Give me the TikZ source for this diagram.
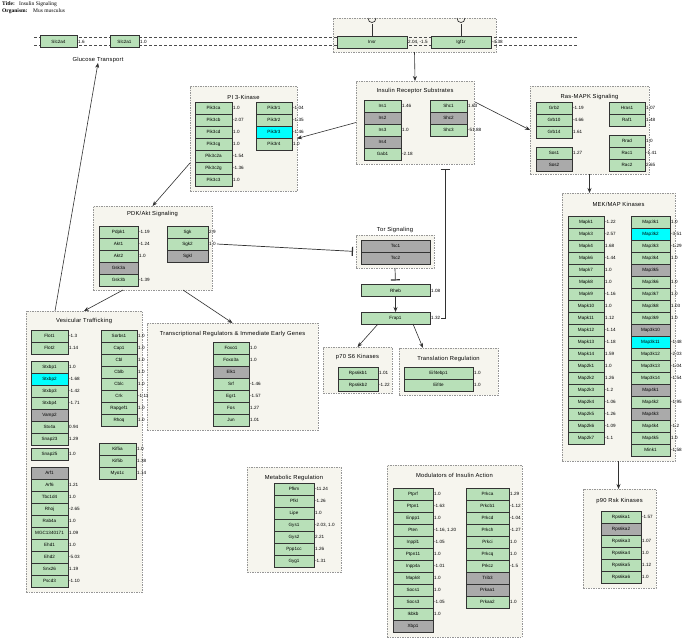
\documentclass[tikz,border=0pt]{standalone}
\usepackage{fontspec}
\usetikzlibrary{arrows.meta,calc}
\newfontfamily\genefont{Liberation Sans}
\newfontfamily\ttlfont[LetterSpace=4]{Liberation Sans}
\newfontfamily\hdrfont{Liberation Serif}
\definecolor{geneg}{RGB}{184,224,184}
\definecolor{genex}{RGB}{170,170,170}
\definecolor{genec}{RGB}{0,255,255}
\definecolor{grpfill}{RGB}{246,245,238}
\definecolor{grpline}{RGB}{150,150,150}
\definecolor{linkcol}{RGB}{50,50,50}
\tikzset{
 gene/.style={draw=black!80, line width=0.8pt, minimum height=12pt, inner sep=0pt, outer sep=0pt, font=\genefont\fontsize{4.6}{5}\selectfont},
 val/.style={anchor=west, inner sep=1pt, font=\genefont\fontsize{4.6}{5}\selectfont},
 grp/.style={draw=grpline, dash pattern=on 1.5pt off 1pt, line width=0.6pt, fill=grpfill, inner sep=0pt, outer sep=0pt},
 ttl/.style={font=\ttlfont\fontsize{5.8}{6}\selectfont, inner sep=0pt},
 link/.style={draw=linkcol, line width=0.6pt, -{Stealth[length=5pt,width=4pt]}},
 inhib/.style={draw=linkcol, line width=0.7pt, -{Bar[width=9pt,line width=1.2pt]}},
 memb/.style={draw=black!70, dash pattern=on 3pt off 2pt, line width=0.6pt},
 hdr/.style={anchor=west, inner sep=0pt, font=\hdrfont\fontsize{5.5}{6}\selectfont},
 recep/.style={draw=black!80, line width=0.7pt},
}
\newcommand\genecol[4]{%
 \foreach \n/\v/\k [count=\i from 0] in {#4}{%
  \node[gene,fill=gene\k,minimum width={#2-#1}] (\n) at ({(#1+#2)/2},{#3+12*\i+6}) {\n};
  \if x\k\else\node[val] (\n-v) at (\n.east) {\v};\fi
 }}
\newcommand\mkgrp[7]{%
 \node[grp, minimum width={#4-#2}, minimum height={#5-#3}] (#1) at ({(#2+#4)/2},{(#3+#5)/2}) {};
 \node[ttl] (#1-t) at ({(#2+#4)/2},#7) {#6};}
\begin{document}
\begin{tikzpicture}[x=1pt,y=-1pt]
\fill[white] (0,0) rectangle (685,638);
\useasboundingbox (0,0) rectangle (685,638);
% header
\node[hdr,font=\hdrfont\bfseries\fontsize{5.5}{6}\selectfont] (h1) at (2,4) {Title:};
\node[hdr] (h2) at (19,4) {Insulin Signaling};
\node[hdr,font=\hdrfont\bfseries\fontsize{5.5}{6}\selectfont] (h3) at (2,11) {Organism:};
\node[hdr] (h4) at (33,11) {Mus musculus};
% groups
\node[grp, minimum width=163, minimum height=34] (rec) at (414.5,35) {};
\mkgrp{pik}{190}{86}{297}{191}{PI 3-Kinase}{97}
\mkgrp{irs}{356}{81}{474}{164}{Insulin Receptor Substrates}{91}
\mkgrp{ras}{530}{86}{649}{174}{Ras-MAPK Signaling}{97}
\mkgrp{mek}{562}{193}{675}{461}{MEK/MAP Kinases}{204}
\mkgrp{p90}{583}{489}{656}{588}{p90 Rsk Kinases}{501}
\mkgrp{pdk}{93}{206}{212}{290}{PDK/Akt Signaling}{214}
\mkgrp{ves}{26}{311}{142}{592}{Vesicular Trafficking}{321}
\mkgrp{trn}{147}{323}{318}{430}{Transcriptional Regulators \& Immediate Early Genes}{334}
\mkgrp{tor}{356}{235}{434}{268}{Tor Signaling}{230}
\mkgrp{p70}{323}{347}{392}{393}{p70 S6 Kinases}{357}
\mkgrp{trl}{399}{348}{498}{395}{Translation Regulation}{359}
\mkgrp{met}{247}{467}{341}{572}{Metabolic Regulation}{478}
\mkgrp{mod}{387}{465}{522}{637}{Modulators of Insulin Action}{475}
% membrane
\coordinate (m1) at (34,37.5); \coordinate (m2) at (578,37.5);
\coordinate (m3) at (34,45.5); \coordinate (m4) at (578,45.5);
\draw[memb] (m1) -- (m2);
\draw[memb] (m3) -- (m4);
\genecol{40}{77}{35.5}{Slc2a4/1.6/g}
\genecol{110}{139}{35.5}{Slc2a1/1.0/g}
\genecol{337}{407}{36}{Insr/{2.04, -1.5}/g}
\genecol{431}{491}{36}{Igf1r/-4.38/g}
\node[ttl,font=\ttlfont\fontsize{5.8}{6}\selectfont] (glc) at (98,60) {Glucose Transport};
% receptor symbols
\draw[recep] (Insr.north) -- ++(0,-12) coordinate (insrcup);
\draw[recep] ($(insrcup)+(-4,-6)$) .. controls ($(insrcup)+(-4,0)$) and ($(insrcup)+(4,0)$) .. ($(insrcup)+(4,-6)$);
\draw[recep] (Igf1r.north) -- ++(0,-12) coordinate (igfcup);
\draw[recep] ($(igfcup)+(-4,-6)$) .. controls ($(igfcup)+(-4,0)$) and ($(igfcup)+(4,0)$) .. ($(igfcup)+(4,-6)$);
% PI3K
\genecol{195}{232}{102}{Pik3ca/1.0/g,Pik3cb/-2.07/g,Pik3cd/1.0/g,Pik3cg/1.0/g,Pik3c2a/-1.54/g,Pik3c2g/-1.36/g,Pik3c3/1.0/g}
\genecol{256}{292}{102}{Pik3r1/-1.04/g,Pik3r2/-1.35/g,Pik3r3/-1.46/c,Pik3r4/1.0/g}
% IRS
\genecol{364}{401}{100}{Irs1/1.46/g,Irs2//x,Irs3/1.0/g,Irs4//x,Gab1/-2.18/g}
\genecol{430}{467}{100}{Shc1/1.63/g,Shc2//x,Shc3/-51.88/g}
% Ras
\genecol{536}{572}{102}{Grb2/-1.19/g,Grb10/-4.66/g,Grb14/1.61/g}
\genecol{536}{572}{147}{Sos1/1.27/g,Sos2//x}
\genecol{609}{645}{102}{Hras1/1.07/g,Raf1/1.48/g}
\genecol{609}{645}{135}{Rrad/1.0/g,Rac1/-1.41/g,Rac2/2.65/g}
% MEK
\genecol{568}{604}{216}{Mapk1/-1.22/g,Mapk3/-2.57/g,Mapk4/1.68/g,Mapk6/-1.44/g,Mapk7/1.0/g,Mapk8/1.0/g,Mapk9/-1.16/g,Mapk10/1.0/g,Mapk11/1.12/g,Mapk12/-1.14/g,Mapk13/-1.18/g,Mapk14/1.59/g,Map2k1/1.0/g,Map2k2/1.26/g,Map2k3/-1.2/g,Map2k4/-1.06/g,Map2k5/-1.26/g,Map2k6/-1.09/g,Map2k7/-1.1/g}
\genecol{631}{670}{216}{Map3k1/1.0/g,Map3k2/-3.51/c,Map3k3/-1.29/g,Map3k4/1.0/g,Map3k5//x,Map3k6/1.0/g,Map3k7/1.0/g,Map3k8/1.03/g,Map3k9/1.0/g,Map3k10//x,Map3k11/-1.48/c,Map3k12/-2.03/g,Map3k13/-1.04/g,Map3k14/-1.54/g,Map4k1//x,Map4k2/-1.95/g,Map4k3//x,Map4k4/-1.2/g,Map4k5/1.0/g,Mink1/-1.58/g}
% p90
\genecol{601}{641}{511}{Rps6ka1/-1.57/g,Rps6ka2//x,Rps6ka3/1.07/g,Rps6ka4/1.0/g,Rps6ka5/1.12/g,Rps6ka6/1.0/g}
% PDK
\genecol{99}{138}{226}{Pdpk1/-1.19/g,Akt1/-1.24/g,Akt2/1.0/g,Gsk3a//x,Gsk3b/-1.39/g}
\genecol{167}{208}{226}{Sgk/2.9/g,Sgk2/1.0/g,Sgkl//x}
% Vesicular
\genecol{31}{68}{330}{Flot1/-1.3/g,Flot2/1.14/g}
\genecol{31}{68}{361}{Stxbp1/1.0/g,Stxbp2/-1.68/c,Stxbp3/-1.42/g,Stxbp4/-1.71/g,Vamp2//x,Stx4a/0.94/g,Snap23/1.29/g}
\genecol{31}{68}{448}{Snap25/1.0/g}
\genecol{31}{68}{467}{Arf1//x,Arf6/1.21/g,Tbc1d4/1.0/g,Rhoj/-2.65/g,Rab4a/1.0/g,MGC1340171/1.09/g,Ehd1/1.0/g,Ehd2/-5.03/g,Snx26/1.19/g,Pscd3/-1.10/g}
\genecol{101}{137}{330}{Sorbs1/1.0/g,Cap1/1.0/g,Cbl/1.0/g,Cblb/1.0/g,Cblc/1.0/g,Crk/-1.11/g,Rapgef1/1.0/g,Rhoq/1.0/g}
\genecol{99}{136}{443}{Kif5a/1.0/g,Kif5b/1.38/g,Myo1c/1.14/g}
% Transcription
\genecol{213}{249}{342}{Foxo1/1.0/g,Foxo3a/1.0/g,Elk1//x,Srf/-1.46/g,Egr1/-1.57/g,Fos/1.27/g,Jun/1.01/g}
% Tor
\genecol{361}{430}{240}{Tsc1//x,Tsc2//x}
\genecol{361}{430}{284.5}{Rheb/1.08/g}
\genecol{361}{430}{312}{Frap1/1.32/g}
\genecol{338}{378}{367}{Rps6kb1/1.01/g,Rps6kb2/-1.22/g}
\genecol{404}{473}{367}{Eif4ebp1/1.0/g,Eif4e/1.0/g}
% Metabolic
\genecol{274}{314}{483}{Pfkm/-11.24/g,Pfkl/-1.26/g,Lipe/1.0/g,Gys1/{-2.03, 1.0}/g,Gys2/2.21/g,Ppp1cc/1.26/g,Gyg1/-1.31/g}
% Modulators
\genecol{393}{433}{488}{Ptprf/1.0/g,Ptpn1/-1.63/g,Enpp1/1.0/g,Pten/{-1.16, 1.20}/g,Inppl1/-1.05/g,Ptpn11/1.0/g,Inpp4a/-1.01/g,Mapk8/1.0/g,Socs1/1.0/g,Socs3/-1.05/g,Ikbkb/1.0/g,Xbp1//x}
\genecol{466}{509}{488}{Prkca/1.29/g,Prkcb1/-1.12/g,Prkcd/-1.04/g,Prkch/-1.27/g,Prkci/1.0/g,Prkcq/1.0/g,Prkcz/-1.5/g,Trib3//x,Prkaa1//x,Prkaa2/1.0/g}
% connectors
\coordinate (irsbar) at ($(irs.south west)+(89,5)$);
\draw[link] ($(ves.north west)+(29,0)$) -- (glc.south);
\draw[link] (rec.south) -- (irs.north);
\draw[link] (irs.west) -- (pik.east);
\draw[link] ($(irs.north east)+(1,21)$) -- (ras.west);
\draw[link] (ras.south) -- (ras.south |- mek.north);
\draw[link] (mek.south) -- (mek.south |- p90.north);
\draw[link] ($(pik.south west)+(0,-28)$) -- (pdk.north);
\draw[link] ($(pdk.south west)+(30,0)$) -- (ves.north);
\draw[link] ($(pdk.south east)+(-29,0)$) -- (trn.north);
\draw[inhib, shorten >=3pt] (Sgk2-v.east) -- (tor.west);
\draw[inhib, shorten >=4pt] (tor.south) -- (Rheb.north);
\draw[link] (Rheb.south) -- (Frap1.north);
\draw[link] ($(Frap1.south west)+(17,0)$) -- (p70.north);
\draw[link] ($(Frap1.south east)+(-17,0)$) -- ($(trl.north west)+(24,0)$);
\draw[inhib] (Frap1-v.east) -| (irsbar);
\end{tikzpicture}
\end{document}
